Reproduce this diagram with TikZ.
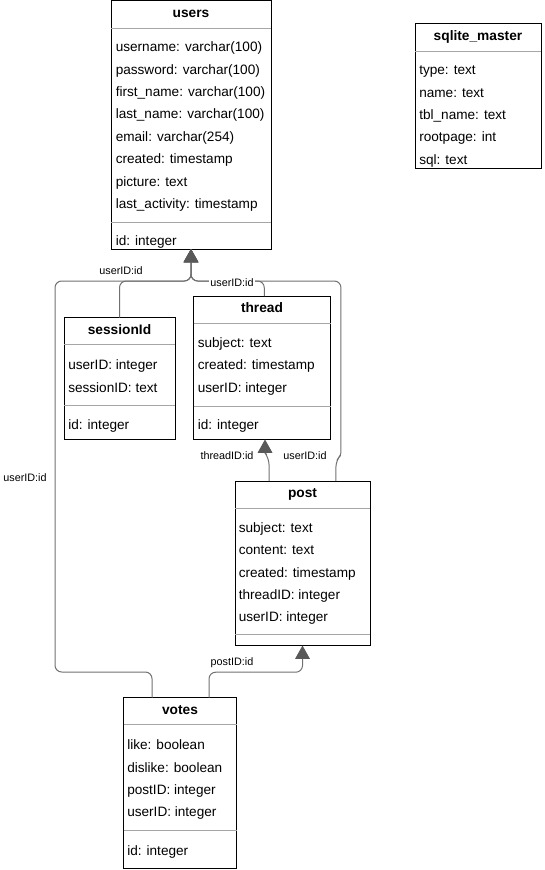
\documentclass[tikz,border=0pt]{standalone}
\usepackage{fontspec}
\setmainfont{Liberation Sans}
\usetikzlibrary{arrows.meta}
\definecolor{linkgray}{HTML}{707070}
\definecolor{tipgray}{HTML}{595959}
\definecolor{sepgray}{HTML}{A6A6A6}

\begin{document}
\begin{tikzpicture}[
	x=0.75pt, y=-0.75pt,
	tablebox/.style={rectangle, draw=black, line width=0.75pt, inner sep=0pt, outer sep=0pt, anchor=north west},
	headtext/.style={anchor=base, inner sep=0pt, font=\fontsize{10.3}{12}\selectfont\bfseries},
	rowtext/.style={anchor=base west, inner sep=0pt, font=\fontsize{10.2}{12}\selectfont},
	sepline/.style={draw=sepgray, line width=0.75pt},
	link/.style={draw=linkgray, line width=0.75pt, rounded corners=5pt},
	fklink/.style={link, -{Triangle[width=11pt,length=10pt,color=tipgray]}},
	linklabel/.style={font=\fontsize{8.1}{10}\selectfont, fill=white, inner sep=1pt},
	]
	
	\useasboundingbox (0,0) rectangle (545,870);
	
	%Tables
	\node[tablebox, minimum width=120pt, minimum height=186pt]		(users)		at (111,1)		{};
	\node[tablebox, minimum width=94.5pt, minimum height=108.4pt]	(sqlitemaster)	at (415,24)	{};
	\node[tablebox, minimum width=83.25pt, minimum height=91.5pt]	(session)	at (64,317.5)	{};
	\node[tablebox, minimum width=102.75pt, minimum height=107.6pt]	(thread)	at (193.5,296)	{};
	\node[tablebox, minimum width=101.25pt, minimum height=123.4pt]	(post)		at (235,481)	{};
	\node[tablebox, minimum width=84.75pt, minimum height=127.9pt]	(votes)		at (123.5,697.5)	{};
	
	%Headers
	\node[headtext] (users-head)	at ([yshift=-12.4pt]users.north)	{users};
	\node[headtext] (sqlitemaster-head)	at ([yshift=-12.4pt]sqlitemaster.north)	{sqlite\_master};
	\node[headtext] (session-head)	at ([yshift=-12.4pt]session.north)	{sessionId};
	\node[headtext] (thread-head)	at ([yshift=-12.4pt]thread.north)	{thread};
	\node[headtext] (post-head)		at ([yshift=-12.4pt]post.north)		{post};
	\node[headtext] (votes-head)	at ([yshift=-12.4pt]votes.north)	{votes};
	
	%Separators
	\foreach \tab in {users, sqlitemaster, session, thread, post, votes}
		\draw[sepline] ([yshift=-20.4pt]\tab.north west) -- ([yshift=-20.4pt]\tab.north east);
	\draw[sepline] (users.west |- 0,222) -- (users.east |- 0,222);
	\draw[sepline] (session.west |- 0,405.5) -- (session.east |- 0,405.5);
	\draw[sepline] (thread.west |- 0,406.5) -- (thread.east |- 0,406.5);
	\draw[sepline] (post.west |- 0,634) -- (post.east |- 0,634);
	\draw[sepline] (votes.west |- 0,830.5) -- (votes.east |- 0,830.5);
	
	%Rows
	\foreach \txt [count=\i from 0] in {username: varchar(100), password: varchar(100), first\_name: varchar(100), last\_name: varchar(100), email: varchar(254), created: timestamp, picture: text, last\_activity: timestamp}
		\node[rowtext] (users-row\i) at (115.5,{51.7+\i*22.4}) {\txt};
	\node[rowtext] (users-id) at (115.5,245.7) {id: integer};
	
	\foreach \txt [count=\i from 0] in {type: text, name: text, tbl\_name: text, rootpage: int, sql: text}
		\node[rowtext] (sqlitemaster-row\i) at (419,{74.7+\i*22.4}) {\txt};
	
	\foreach \txt [count=\i from 0] in {userID: integer, sessionID: text}
		\node[rowtext] (session-row\i) at (68,{369.7+\i*22.4}) {\txt};
	\node[rowtext] (session-id) at (68,429) {id: integer};
	
	\foreach \txt [count=\i from 0] in {subject: text, created: timestamp, userID: integer}
		\node[rowtext] (thread-row\i) at (197.5,{347.4+\i*22.4}) {\txt};
	\node[rowtext] (thread-id) at (197.5,429.7) {id: integer};
	
	\foreach \txt [count=\i from 0] in {subject: text, content: text, created: timestamp, threadID: integer, userID: integer}
		\node[rowtext] (post-row\i) at (238.5,{532.2+\i*22.4}) {\txt};
	
	\foreach \txt [count=\i from 0] in {like: boolean, dislike: boolean, postID: integer, userID: integer}
		\node[rowtext] (votes-row\i) at (127,{749.7+\i*22.4}) {\txt};
	\node[rowtext] (votes-id) at (127,855) {id: integer};
	
	%Lines
	\coordinate (hub) at (191,281);
	\coordinate (votesbend) at (55,672);
	\draw[fklink] (session.north) |- (hub) -- (users.south);
	\draw[fklink] ([xshift=-21pt]votes.north) |- (votesbend) |- (hub) -- (users.south);
	\draw[fklink] ([xshift=1.7pt]thread.north) |- (hub) -- (users.south);
	\draw[fklink] ([xshift=25.1pt]post.north) -- ++(0,-21) [rounded corners=2pt] -- ++(5,-5) [rounded corners=5pt] |- (hub) -- (users.south);
	\draw[fklink] ([xshift=-25.1pt]post.north) -- ++(0,-23) [rounded corners=2pt] -- ++(-4,-5) [rounded corners=5pt] -- ([xshift=2.25pt]thread.south);
	\draw[fklink] ([xshift=21.75pt]votes.north) |- ([yshift=-20pt]post.south) -- (post.south);
	
	%Labels
	\node[linklabel] (lab-session)	at (121,271)	{userID:id};
	\node[linklabel] (lab-votes)	at (25,478)		{userID:id};
	\node[linklabel] (lab-thread)	at (232,283)	{userID:id};
	\node[linklabel] (lab-postuser)	at (305,456)	{userID:id};
	\node[linklabel] (lab-postthread)	at (227,456)	{threadID:id};
	\node[linklabel] (lab-votespost)	at (232,663)	{postID:id};
	
\end{tikzpicture}
\end{document}
